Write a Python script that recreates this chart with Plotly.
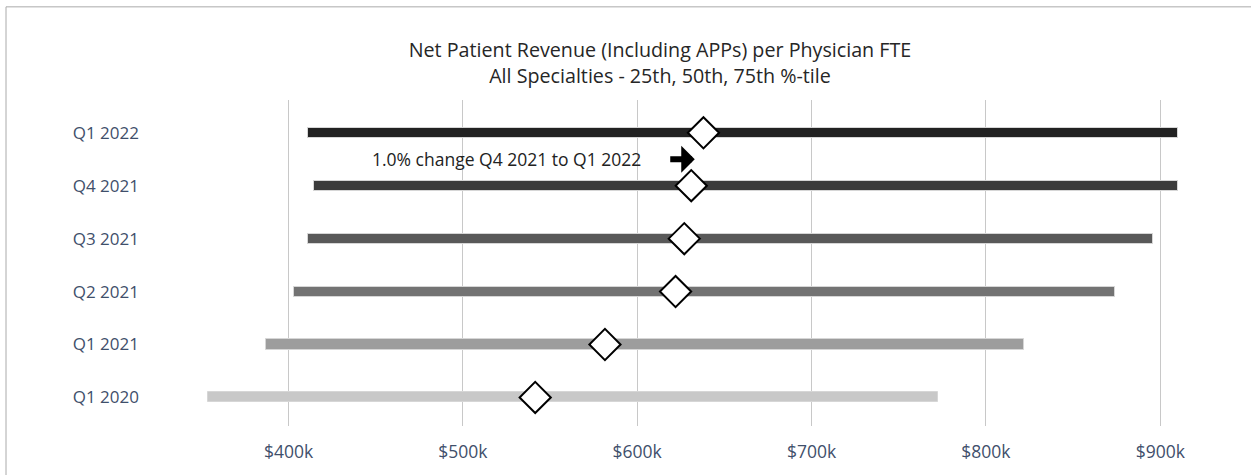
import plotly.graph_objects as go

# ---- data (values in $ thousands) ----
periods = ["Q1 2022", "Q4 2021", "Q3 2021", "Q2 2021", "Q1 2021", "Q1 2020"]
p25 = [411, 414.5, 411, 403, 387, 354]
p50 = [638, 631, 627, 622, 581.5, 541.5]
p75 = [910, 910, 896, 874, 822, 772.5]
bar_colors = ["#222222", "#3c3c3c", "#595959", "#737373", "#9d9d9d", "#c8c8c8"]
x_ticks = [400, 500, 600, 700, 800, 900]
x_ticktext = ["$400k", "$500k", "$600k", "$700k", "$800k", "$900k"]
note_text = "1.0% change Q4 2021 to Q1 2022"

W, H = 1251, 475
L, R, T, B = 150, 21, 100, 46
pw, ph = W - L - R, H - T - B

fig = go.Figure()
fig.add_trace(go.Bar(
    y=periods,
    x=[b - a for a, b in zip(p25, p75)],
    base=p25,
    orientation="h",
    width=0.19,
    marker=dict(color=bar_colors, line=dict(color="#d6d6d6", width=1)),
    hoverinfo="skip",
))
fig.add_trace(go.Scatter(
    y=periods,
    x=p50,
    mode="markers",
    marker=dict(symbol="diamond", size=24, color="white",
                line=dict(color="black", width=2)),
    hoverinfo="skip",
))

# note text and arrow
fig.add_annotation(x=447, y=0.5, xref="x", yref="y", text=note_text,
                   showarrow=False, xanchor="left", yanchor="middle",
                   font=dict(size=17.5, color="#222222", family="Open Sans"))
fig.add_annotation(x=633, y=0.5, xref="x", yref="y", text="",
                   showarrow=True, arrowhead=1, arrowsize=0.75, arrowwidth=6,
                   arrowcolor="black", ax=-26, ay=0)

# outer frame
def px_to_paper_x(px):
    return (px - L) / pw

def px_to_paper_y(py):
    return 1 - (py - T) / ph

fig.add_shape(type="rect", xref="paper", yref="paper",
              x0=px_to_paper_x(6), x1=px_to_paper_x(1300),
              y0=px_to_paper_y(520), y1=px_to_paper_y(6),
              line=dict(color="#aaaaaa", width=1), fillcolor="rgba(0,0,0,0)",
              layer="below")

x_left = 400 - (288.5 - L) / 1.7435
x_right = 400 + (W - R - 288.5) / 1.7435

fig.update_layout(
    width=W, height=H,
    margin=dict(l=L, r=R, t=T, b=B),
    paper_bgcolor="white", plot_bgcolor="white",
    showlegend=False,
    bargap=0,
    font=dict(family="Open Sans", color="#3f4f6b"),
    title=dict(text="Net Patient Revenue (Including APPs) per Physician FTE<br>All Specialties - 25th, 50th, 75th %-tile",
               x=660 / W, xref="container", xanchor="center",
               y=1 - 57 / H, yref="container", yanchor="top",
               font=dict(size=19.7, color="#262626", family="Open Sans")),
    xaxis=dict(range=[x_left, x_right], tickvals=x_ticks, ticktext=x_ticktext,
               showgrid=True, gridcolor="#c8c8c8", gridwidth=1,
               zeroline=False, showline=False, ticks="",
               ticklabelstandoff=13,
               tickfont=dict(size=17.5, color="#3f4f6b")),
    yaxis=dict(type="category", categoryorder="array", categoryarray=periods,
               range=[5.54, -0.62], showgrid=False, zeroline=False,
               showline=False, ticks="", ticklabelstandoff=10,
               tickfont=dict(size=17, color="#3f4f6b")),
)

fig.write_html("out.html", config={"displayModeBar": False},
               post_script="document.body.style.margin='0';")
